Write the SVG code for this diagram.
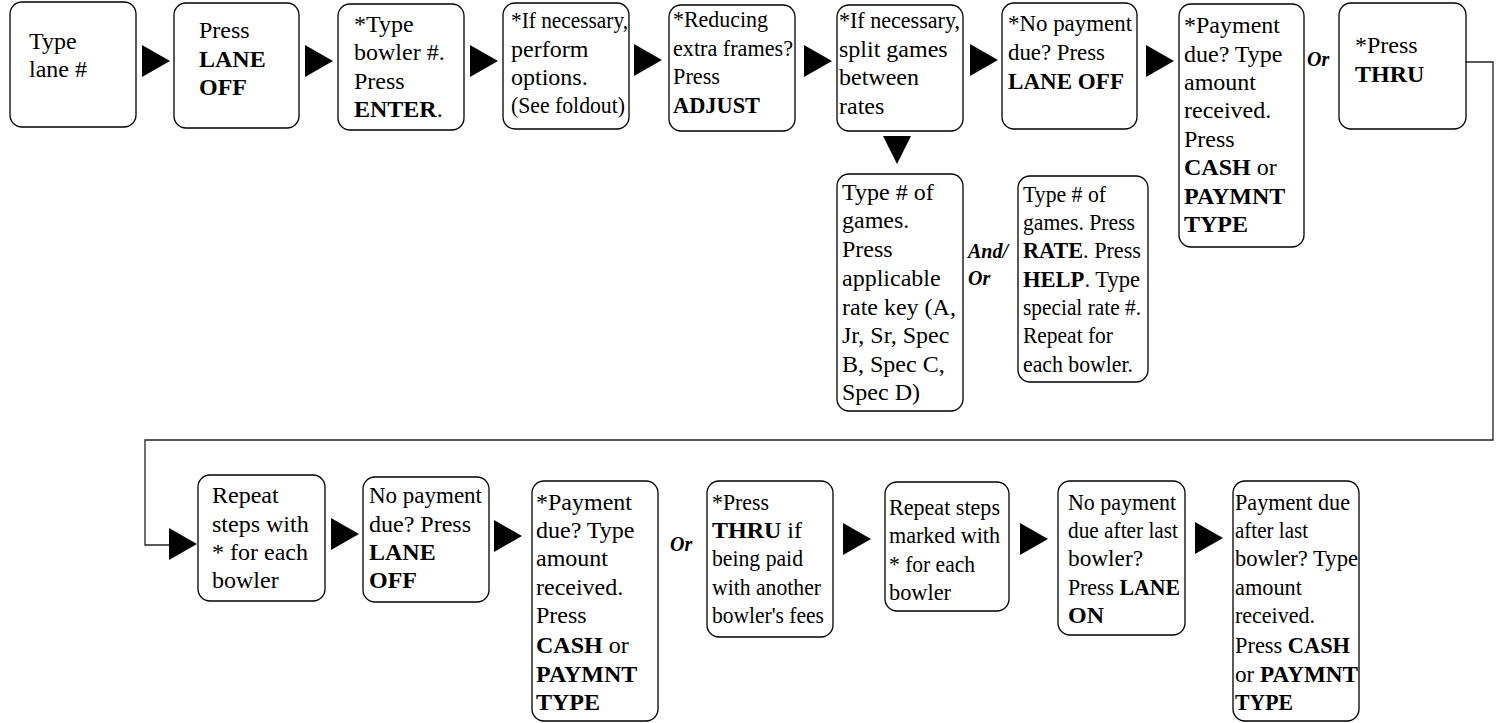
<svg xmlns="http://www.w3.org/2000/svg" xmlns:xlink="http://www.w3.org/1999/xlink" width="1498" height="723" viewBox="0 0 1498 723" font-family="'Liberation Serif', 'DejaVu Serif', serif">
<style>
.box{fill:#fff;stroke:#000;stroke-width:1.3}
.tx{font-family:'Liberation Serif','DejaVu Serif',serif;font-size:24px;fill:#000}
.b{font-weight:bold}
.or{font-family:'Liberation Serif','DejaVu Serif',serif;font-style:italic;font-weight:bold;font-size:20px}
.arr{fill:#000}
.conn{fill:none;stroke:#222;stroke-width:1.3}
</style>
<defs>
<path id="tri" d="M0 0 L28 16 L0 32 Z"/>
</defs>
<rect width="1498" height="723" fill="#fff"/>
<g id="connectors">
<path class="conn" d="M1466 62 H1493 V440 H145 V545 H170"/>
<g class="arr">
<use xlink:href="#tri" x="142" y="45"/>
<use xlink:href="#tri" x="305" y="45"/>
<use xlink:href="#tri" x="470" y="45"/>
<use xlink:href="#tri" x="634" y="44"/>
<use xlink:href="#tri" x="804" y="45"/>
<use xlink:href="#tri" x="970" y="44"/>
<use xlink:href="#tri" x="1146" y="45"/>
<path d="M883 136 L911 136 L897 164 Z"/>
<use xlink:href="#tri" x="169" y="528"/>
<use xlink:href="#tri" x="331" y="518"/>
<use xlink:href="#tri" x="494" y="520"/>
<use xlink:href="#tri" x="843" y="523"/>
<use xlink:href="#tri" x="1020" y="523"/>
<use xlink:href="#tri" x="1195" y="522"/>
</g>
<text class="or" x="1307" y="66">Or</text>
<text class="or" x="968" y="258">And/</text>
<text class="or" x="968" y="285">Or</text>
<text class="or" x="670" y="551">Or</text>
</g>
<g class="tx">
<g id="n1"><rect class="box" x="10" y="2" width="126" height="125" rx="12"/>
<text x="29" y="49">Type</text><text x="29" y="77">lane #</text></g>
<g id="n2"><rect class="box" x="174" y="3" width="125" height="125" rx="12"/>
<text x="199" y="38">Press</text><text class="b" x="199" y="67">LANE</text><text class="b" x="199" y="95">OFF</text></g>
<g id="n3"><rect class="box" x="338" y="4" width="126" height="126" rx="12"/>
<text x="354" y="32">*Type</text><text x="354" y="60">bowler #.</text><text x="354" y="89">Press</text><text x="354" y="117"><tspan class="b">ENTER</tspan>.</text></g>
<g id="n4"><rect class="box" x="503" y="3" width="126" height="126" rx="12"/>
<text x="511" y="28" textLength="117" lengthAdjust="spacingAndGlyphs">*If necessary,</text><text x="511" y="57">perform</text><text x="511" y="85">options.</text><text x="511" y="113" textLength="114" lengthAdjust="spacingAndGlyphs">(See foldout)</text></g>
<g id="n5"><rect class="box" x="669" y="5" width="126" height="126" rx="12"/>
<text x="673" y="27" textLength="95" lengthAdjust="spacingAndGlyphs">*Reducing</text><text x="673" y="56" textLength="120" lengthAdjust="spacingAndGlyphs">extra frames?</text><text x="673" y="84" textLength="47" lengthAdjust="spacingAndGlyphs">Press</text><text class="b" x="673" y="113" textLength="87" lengthAdjust="spacingAndGlyphs">ADJUST</text></g>
<g id="n6"><rect class="box" x="837" y="5" width="126" height="126" rx="12"/>
<text x="839" y="28" textLength="121" lengthAdjust="spacingAndGlyphs">*If necessary,</text><text x="839" y="57">split games</text><text x="839" y="85">between</text><text x="839" y="114">rates</text></g>
<g id="n7"><rect class="box" x="1002" y="3" width="135" height="126" rx="12"/>
<text x="1008" y="31" textLength="124" lengthAdjust="spacingAndGlyphs">*No payment</text><text x="1008" y="60" textLength="97" lengthAdjust="spacingAndGlyphs">due? Press</text><text class="b" x="1008" y="89" textLength="116" lengthAdjust="spacingAndGlyphs">LANE OFF</text></g>
<g id="n8"><rect class="box" x="1179" y="4" width="125" height="243" rx="12"/>
<text x="1184" y="33">*Payment</text><text x="1184" y="62">due? Type</text><text x="1184" y="90">amount</text><text x="1184" y="118">received.</text><text x="1184" y="147">Press</text><text x="1184" y="175"><tspan class="b">CASH</tspan> or</text><text class="b" x="1184" y="204">PAYMNT</text><text class="b" x="1184" y="232">TYPE</text></g>
<g id="n9"><rect class="box" x="1339" y="3" width="127" height="126" rx="12"/>
<text x="1355" y="53">*Press</text><text class="b" x="1355" y="82">THRU</text></g>
<g id="n10"><rect class="box" x="837" y="174" width="126" height="237" rx="12"/>
<text x="842" y="200">Type # of</text><text x="842" y="228">games.</text><text x="842" y="257">Press</text><text x="842" y="286">applicable</text><text x="842" y="315">rate key (A,</text><text x="842" y="343">Jr, Sr, Spec</text><text x="842" y="372">B, Spec C,</text><text x="842" y="400">Spec D)</text></g>
<g id="n11"><rect class="box" x="1018" y="176" width="130" height="206" rx="12"/>
<text x="1023" y="202" textLength="83" lengthAdjust="spacingAndGlyphs">Type # of</text><text x="1023" y="230" textLength="112" lengthAdjust="spacingAndGlyphs">games. Press</text><text x="1023" y="258" textLength="118" lengthAdjust="spacingAndGlyphs"><tspan class="b">RATE</tspan>. Press</text><text x="1023" y="287" textLength="117" lengthAdjust="spacingAndGlyphs"><tspan class="b">HELP</tspan>. Type</text><text x="1023" y="315" textLength="118" lengthAdjust="spacingAndGlyphs">special rate #.</text><text x="1023" y="343" textLength="90" lengthAdjust="spacingAndGlyphs">Repeat for</text><text x="1023" y="372" textLength="110" lengthAdjust="spacingAndGlyphs">each bowler.</text></g>
<g id="n12"><rect class="box" x="198" y="475" width="127" height="126" rx="12"/>
<text x="212" y="503">Repeat</text><text x="212" y="532">steps with</text><text x="212" y="560">* for each</text><text x="212" y="588">bowler</text></g>
<g id="n13"><rect class="box" x="363" y="477" width="126" height="125" rx="12"/>
<text x="369" y="503" textLength="113" lengthAdjust="spacingAndGlyphs">No payment</text><text x="369" y="532">due? Press</text><text class="b" x="369" y="560">LANE</text><text class="b" x="369" y="588">OFF</text></g>
<g id="n14"><rect class="box" x="532" y="481" width="126" height="240" rx="12"/>
<text x="536" y="510">*Payment</text><text x="536" y="538">due? Type</text><text x="536" y="566">amount</text><text x="536" y="595">received.</text><text x="536" y="623">Press</text><text x="536" y="653"><tspan class="b">CASH</tspan> or</text><text class="b" x="536" y="682">PAYMNT</text><text class="b" x="536" y="710">TYPE</text></g>
<g id="n15"><rect class="box" x="707" y="481" width="126" height="156" rx="12"/>
<text x="712" y="510" textLength="57" lengthAdjust="spacingAndGlyphs">*Press</text><text x="712" y="538"><tspan class="b">THRU</tspan> if</text><text x="712" y="566" textLength="91" lengthAdjust="spacingAndGlyphs">being paid</text><text x="712" y="595" textLength="109" lengthAdjust="spacingAndGlyphs">with another</text><text x="712" y="623" textLength="112" lengthAdjust="spacingAndGlyphs">bowler's fees</text></g>
<g id="n16"><rect class="box" x="885" y="482" width="124" height="129" rx="12"/>
<text x="889" y="515" textLength="111" lengthAdjust="spacingAndGlyphs">Repeat steps</text><text x="889" y="543" textLength="111" lengthAdjust="spacingAndGlyphs">marked with</text><text x="889" y="572" textLength="86" lengthAdjust="spacingAndGlyphs">* for each</text><text x="889" y="600" textLength="62" lengthAdjust="spacingAndGlyphs">bowler</text></g>
<g id="n17"><rect class="box" x="1058" y="481" width="127" height="154" rx="12"/>
<text x="1068" y="510" textLength="108" lengthAdjust="spacingAndGlyphs">No payment</text><text x="1068" y="538" textLength="110" lengthAdjust="spacingAndGlyphs">due after last</text><text x="1068" y="566" textLength="75" lengthAdjust="spacingAndGlyphs">bowler?</text><text x="1068" y="595" textLength="112" lengthAdjust="spacingAndGlyphs">Press <tspan class="b">LANE</tspan></text><text class="b" x="1068" y="623">ON</text></g>
<g id="n18"><rect class="box" x="1233" y="481" width="126" height="240" rx="12"/>
<text x="1235" y="510" textLength="115" lengthAdjust="spacingAndGlyphs">Payment due</text><text x="1235" y="538" textLength="73" lengthAdjust="spacingAndGlyphs">after last</text><text x="1235" y="566" textLength="123" lengthAdjust="spacingAndGlyphs">bowler? Type</text><text x="1235" y="595" textLength="67" lengthAdjust="spacingAndGlyphs">amount</text><text x="1235" y="623" textLength="80" lengthAdjust="spacingAndGlyphs">received.</text><text x="1235" y="653" textLength="115" lengthAdjust="spacingAndGlyphs">Press <tspan class="b">CASH</tspan></text><text x="1235" y="682" textLength="123" lengthAdjust="spacingAndGlyphs">or <tspan class="b">PAYMNT</tspan></text><text class="b" x="1235" y="710" textLength="58" lengthAdjust="spacingAndGlyphs">TYPE</text></g>
</g>
</svg>
